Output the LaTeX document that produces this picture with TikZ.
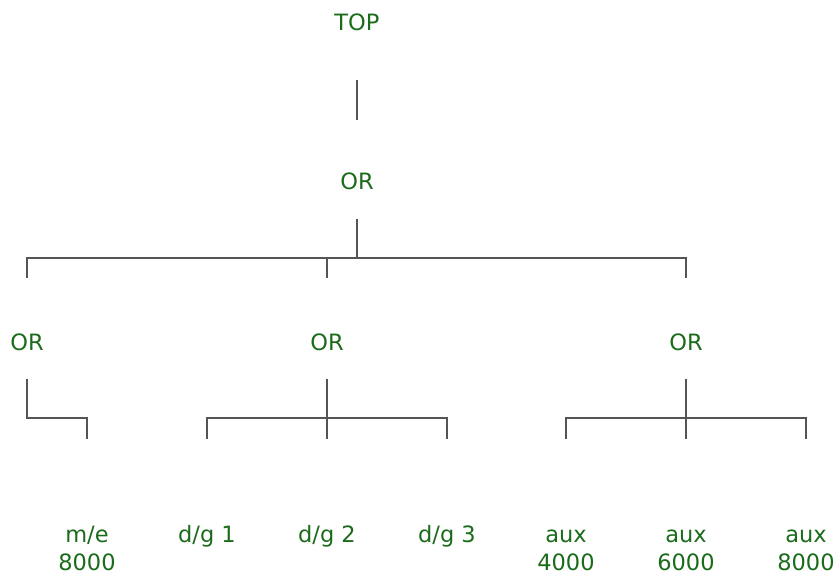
\documentclass[tikz,border=0pt]{standalone}
\usepackage{fontspec}
\setmainfont{DejaVu Sans}
\usepackage{tikz}
\usetikzlibrary{calc, positioning}
\definecolor{FTgreen}{HTML}{1B6B1B}
\definecolor{FTgray}{HTML}{555555}

\begin{document}
\begin{tikzpicture}[x=1pt, y=-1pt,
  gate/.style={font=\fontsize{22.5}{28}\selectfont, text=FTgreen, inner sep=0pt, anchor=base},
  leaf/.style={gate, align=center},
  wire/.style={draw=FTgray, line width=1.8pt}]
\useasboundingbox (0,0) rectangle (835,574);
% Gates
\node[gate] (top) at (357,30) {TOP};
\node[gate] (g0) at (357,189) {OR};
\node[gate] (g1) at (27,350) {OR};
\node[gate] (g2) at (327,350) {OR};
\node[gate] (g3) at (686,350) {OR};
% Basic events (base = last line)
\node[leaf] (me) at (87,570) {m/e\\8000};
\node[leaf] (dg1) at (207,542) {d/g 1};
\node[leaf] (dg2) at (327,542) {d/g 2};
\node[leaf] (dg3) at (447,542) {d/g 3};
\node[leaf] (aux4) at (566,570) {aux\\4000};
\node[leaf] (aux6) at (686,570) {aux\\6000};
\node[leaf] (aux8) at (806,570) {aux\\8000};
% Junctions
\coordinate (j0) at (357,258);
\coordinate (j1) at (27,418);
\coordinate (j2) at (327,418);
\coordinate (j3) at (686,418);
% TOP to OR
\draw[wire, shorten <=49pt, shorten >=52pt] (top) -- (g0);
% OR to the three OR gates
\draw[wire] (g0.south) ++(0,29) -- (j0);
\draw[wire] (g1 |- j0) ++(0,20) -- (g1 |- j0) -- (g3 |- j0) -- ++(0,20);
\draw[wire] (g2 |- j0) -- ++(0,20);
% Left branch
\draw[wire] (g1.south) ++(0,28) -- (j1) -- (me |- j1) -- ++(0,21);
% Middle branch
\draw[wire] (g2.south) ++(0,28) -- ($(j2)+(0,21)$);
\draw[wire] (dg1 |- j2) ++(0,21) -- (dg1 |- j2) -- (dg3 |- j2) -- ++(0,21);
% Right branch
\draw[wire] (g3.south) ++(0,28) -- ($(j3)+(0,21)$);
\draw[wire] (aux4 |- j3) ++(0,21) -- (aux4 |- j3) -- (aux8 |- j3) -- ++(0,21);
\end{tikzpicture}
\end{document}
